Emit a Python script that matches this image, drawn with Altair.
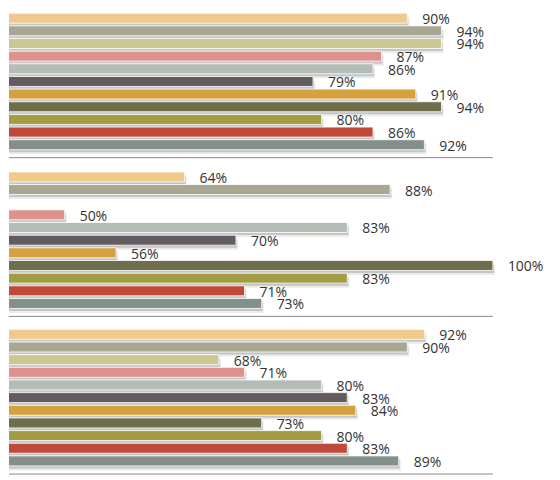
import altair as alt
import pandas as pd

categories = ["c01", "c02", "c03", "c04", "c05", "c06", "c07", "c08", "c09", "c10", "c11"]
colors = ["#EFCA8C", "#A9A793", "#CAC793", "#DF918D", "#B4BCB6", "#625B60",
          "#D5A13E", "#6E6E4D", "#A29D44", "#C04A3A", "#83908A"]

panel1 = [90, 94, 94, 87, 86, 79, 91, 94, 80, 86, 92]
panel2 = [64, 88, None, 50, 83, 70, 56, 100, 83, 71, 73]
panel3 = [92, 90, 68, 71, 80, 83, 84, 73, 80, 83, 89]
rule_end = [100]

W = 544
STEP = 12.68
PI = 0.21
N = len(categories)
XDOM = [43.5, 106.9]


def panel(values, height, align):
    df = pd.DataFrame({"cat": categories, "v": values}).dropna()
    po = (height / STEP - (N - PI)) / 2
    y = alt.Y("cat:N", axis=None,
              scale=alt.Scale(domain=categories, paddingInner=PI, paddingOuter=po, align=align))
    xs = alt.Scale(domain=XDOM, zero=False, nice=False)
    x = alt.X("v:Q", axis=None, scale=xs)
    base = alt.Chart(df)
    shadow2 = base.mark_bar(clip=True, color="#9a9a9a", opacity=0.2, yOffset=4.5, xOffset=2).encode(
        x=x, x2=alt.datum(0), y=y)
    shadow = base.mark_bar(clip=True, color="#8c8c8c", opacity=0.4, yOffset=2.5, xOffset=1).encode(
        x=x, x2=alt.datum(0), y=y)
    bars = base.mark_bar(clip=True, stroke="white", strokeWidth=0.8).encode(
        x=x, x2=alt.datum(0), y=y,
        color=alt.Color("cat:N", legend=None, scale=alt.Scale(domain=categories, range=colors)))
    pct = base.mark_text(align="left", baseline="middle", dx=15, dy=2,
                         font="Open Sans", fontSize=14, color="#333333").transform_calculate(
        lab="format(datum.v, '.0f') + '%'").encode(x=x, y=y, text="lab:N")
    rule = alt.Chart(pd.DataFrame({"r": rule_end})).mark_rule(color="#8a8a8a", strokeWidth=1).encode(
        x=alt.X("r:Q", axis=None, scale=xs), x2=alt.value(0),
        y=alt.value(height - 0.5))
    return alt.layer(shadow2, shadow, bars, pct, rule).properties(width=W, height=height)


chart = alt.vconcat(
    panel(panel1, 150, 0.36),
    panel(panel2, 159, 0.62),
    panel(panel3, 158, 0.59),
    spacing=0,
).properties(padding=0).configure_view(stroke=None)

chart.save("out.html", embed_options={"renderer": "svg", "actions": False})
